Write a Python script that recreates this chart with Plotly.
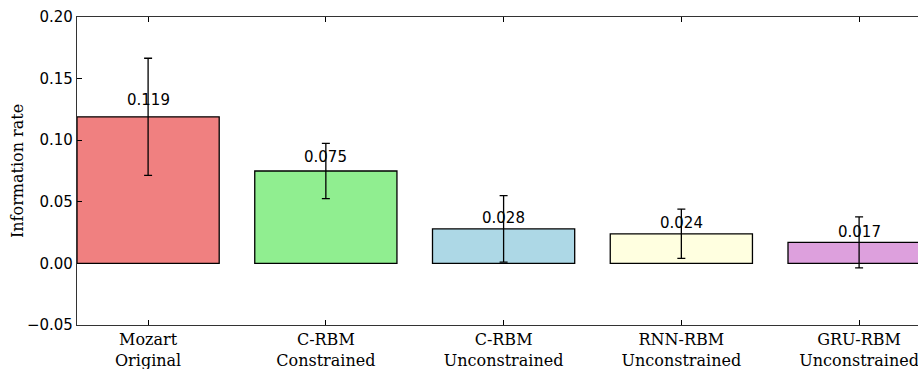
import plotly.graph_objects as go

categories = ["Mozart<br>Original", "C-RBM<br>Constrained", "C-RBM<br>Unconstrained",
              "RNN-RBM<br>Unconstrained", "GRU-RBM<br>Unconstrained"]
values = [0.119, 0.075, 0.028, 0.024, 0.017]
errors = [0.0475, 0.0225, 0.027, 0.020, 0.0207]
colors = ["#F08080", "#90EE90", "#ADD8E6", "#FFFFE0", "#DDA0DD"]
value_labels = ["0.119", "0.075", "0.028", "0.024", "0.017"]
yticks = [-0.05, 0.0, 0.05, 0.10, 0.15, 0.20]
ytick_text = ["\u22120.05", "0.00", "0.05", "0.10", "0.15", "0.20"]

xs = list(range(len(categories)))

plot_w = 918 - 77  # visible plot width (right side of the axes is cut off)

fig = go.Figure()
fig.add_trace(go.Bar(
    x=xs, y=values, width=0.8,
    marker=dict(color=colors, line=dict(color="black", width=1.3)),
    error_y=dict(type="data", array=errors, visible=True, color="black",
                 thickness=1.3, width=4),
    showlegend=False,
))

for x, v, t in zip(xs, values, value_labels):
    fig.add_annotation(x=x, y=v * 1.05, text=t, showarrow=False,
                       xanchor="center", yanchor="bottom", yshift=-2,
                       font=dict(family="DejaVu Sans", size=15, color="black"))

fig.add_annotation(xref="paper", yref="paper", x=(17 - 77) / plot_w, y=0.5,
                   text="Information rate", textangle=-90, showarrow=False,
                   xanchor="center", yanchor="middle",
                   font=dict(family="DejaVu Serif", size=16, color="black"))

fig.update_layout(
    width=918, height=369,
    margin=dict(l=77, r=0, t=17, b=44, autoexpand=False),
    paper_bgcolor="white", plot_bgcolor="white",
    bargap=0.2,
)
fig.update_xaxes(
    range=[-0.4, -0.4 + plot_w / 177.75], automargin=False,
    tickmode="array", tickvals=xs, ticktext=categories,
    showline=True, linecolor="#333333", linewidth=1.3, mirror="allticks",
    ticks="inside", ticklen=5, tickcolor="black", tickwidth=1,
    showgrid=False, zeroline=False, ticklabeloverflow="allow",
    tickfont=dict(family="DejaVu Serif", size=16, color="black"),
)
fig.update_yaxes(
    range=[-0.05, 0.20], automargin=False,
    tickmode="array", tickvals=yticks, ticktext=ytick_text,
    showline=True, linecolor="#333333", linewidth=1.3,
    ticks="inside", ticklen=5, tickcolor="black", tickwidth=1,
    showgrid=False, zeroline=False, ticklabeloverflow="allow",
    tickfont=dict(family="DejaVu Sans", size=15, color="black"),
)

fig.write_html("out.html",
               config={"displayModeBar": False},
               post_script="document.body.style.margin='0';"
                           "document.body.style.overflow='hidden';")
